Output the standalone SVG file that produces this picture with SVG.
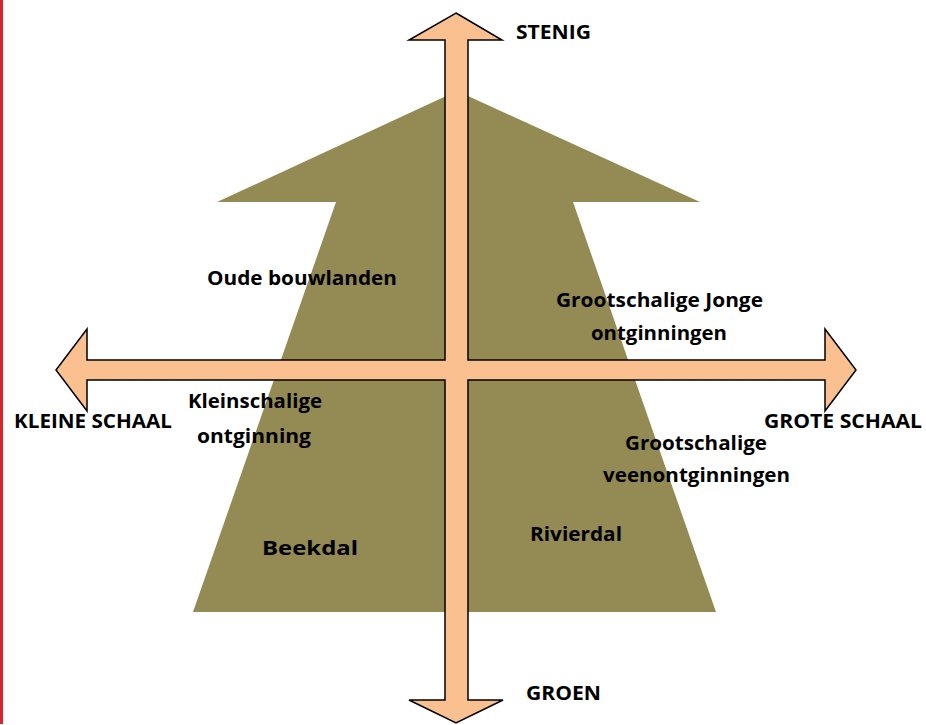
<svg xmlns="http://www.w3.org/2000/svg" width="926" height="725" viewBox="0 0 926 725">
<style>
.lbl{font-family:"Open Sans","Liberation Sans",sans-serif;font-weight:bold;font-size:20px;fill:#000}
</style>
<rect x="0" y="0" width="926" height="725" fill="#fff"/>
<rect x="0" y="0" width="3" height="724" fill="#d9262e"/>
<g id="shape">
<polygon points="457,91 700,202 573,202 716,612 193,612 336,202 217,202" fill="#948a54"/>
</g>
<g id="connectors">
<path d="M456,13 L502,40 L468,40 L468,360 L825,360 L825,329 L856,370 L825,411 L825,380 L468,380 L468,700 L503,700 L456,723 L409,700 L445,700 L445,380 L87,380 L87,411 L56,370 L87,329 L87,360 L445,360 L445,40 L409,40 Z" fill="#fac090" stroke="#000" stroke-width="1.5" stroke-linejoin="miter"/>
</g>
<g id="axis-labels">
<text class="lbl" x="516" y="39" textLength="75" lengthAdjust="spacingAndGlyphs">STENIG</text>
<text class="lbl" x="526" y="700" textLength="75" lengthAdjust="spacingAndGlyphs">GROEN</text>
<text class="lbl" x="14" y="428" textLength="158" lengthAdjust="spacingAndGlyphs">KLEINE SCHAAL</text>
<text class="lbl" x="764" y="428" textLength="158" lengthAdjust="spacingAndGlyphs">GROTE SCHAAL</text>
</g>
<g id="n-oude">
<text class="lbl" x="207" y="285" textLength="190" lengthAdjust="spacingAndGlyphs">Oude bouwlanden</text>
</g>
<g id="n-jonge">
<text class="lbl" x="556" y="307" textLength="207" lengthAdjust="spacingAndGlyphs">Grootschalige Jonge</text>
<text class="lbl" x="591" y="340" textLength="136" lengthAdjust="spacingAndGlyphs">ontginningen</text>
</g>
<g id="n-klein">
<text class="lbl" x="188" y="408" textLength="134" lengthAdjust="spacingAndGlyphs">Kleinschalige</text>
<text class="lbl" x="197" y="443" textLength="114" lengthAdjust="spacingAndGlyphs">ontginning</text>
</g>
<g id="n-veen">
<text class="lbl" x="625" y="450" textLength="142" lengthAdjust="spacingAndGlyphs">Grootschalige</text>
<text class="lbl" x="603" y="482" textLength="187" lengthAdjust="spacingAndGlyphs">veenontginningen</text>
</g>
<g id="n-beekdal">
<text class="lbl" x="262" y="555" textLength="96" lengthAdjust="spacingAndGlyphs">Beekdal</text>
</g>
<g id="n-rivierdal">
<text class="lbl" x="530" y="541" textLength="92" lengthAdjust="spacingAndGlyphs">Rivierdal</text>
</g>
</svg>
